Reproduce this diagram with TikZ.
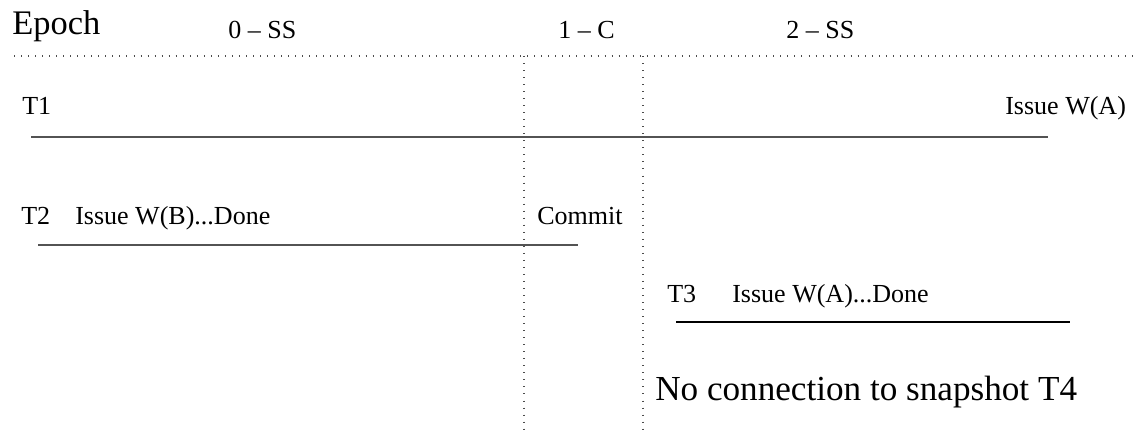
\documentclass[tikz,border=0pt]{standalone}
\usepackage{fontspec}
\setmainfont{Liberation Serif}
\usepackage{tikz}

\begin{document}
\begin{tikzpicture}[x=0.025cm, y=-0.025cm,
    label/.style={anchor=base west, inner sep=0pt, font=\fontsize{18.5}{20}\selectfont},
    sep/.style={gray!60!black, line width=0.9pt, dash pattern=on 0.6pt off 4.4pt},
    tx/.style={gray!65!black, line width=1.5pt},
    tx3/.style={black, line width=1.1pt}]
    \useasboundingbox (0, 0) rectangle (1138, 433);

    % Epoki
    \node[anchor=base west, inner sep=0pt, font=\fontsize{24.5}{26}\selectfont] (epoch) at (12, 35) {Epoch};

    \node[label] (ep0) at (228, 39) {0 -- SS};

    \node[label] (ep1) at (558, 39) {1 -- C};

    \node[label] (ep2) at (786, 39) {2 -- SS};

    \coordinate (topL) at (14, 56);
    \coordinate (topR) at (1136, 56);
    \draw[sep] (topL) -- (topR);

    \coordinate (c1top) at (524, 56);
    \coordinate (c1bot) at (524, 433);
    \draw[sep] (c1top) -- (c1bot);

    \coordinate (c2top) at (643, 56);
    \coordinate (c2bot) at (643, 433);
    \draw[sep] (c2top) -- (c2bot);



    % T1
    \node[label] (t1) at (22, 115) {T1};

    \node[label] (t1w) at (1005, 115) {Issue W(A)};

    \coordinate (t1a) at (31, 137);
    \coordinate (t1b) at (1048, 137);
    \draw[tx] (t1a) -- (t1b);



    % T2
    \node[label] (t2) at (21, 224) {T2};

    \node[label] (t2w) at (75, 224) {Issue W(B)...Done};

    \node[label] (commit) at (537, 224) {Commit};

    \coordinate (t2a) at (38, 245);
    \coordinate (t2b) at (578, 245);
    \draw[tx] (t2a) -- (t2b);



    % T3
    \node[label] (t3) at (667, 302) {T3};

    \node[label] (t3w) at (732, 302) {Issue W(A)...Done};

    \coordinate (t3a) at (676, 322);
    \coordinate (t3b) at (1070, 322);
    \draw[tx3] (t3a) -- (t3b);



    % T4
    \node[anchor=base west, inner sep=0pt, font=\fontsize{25}{28}\selectfont] (note) at (655, 400) {No connection to snapshot T4};
  \end{tikzpicture}

\end{document}
